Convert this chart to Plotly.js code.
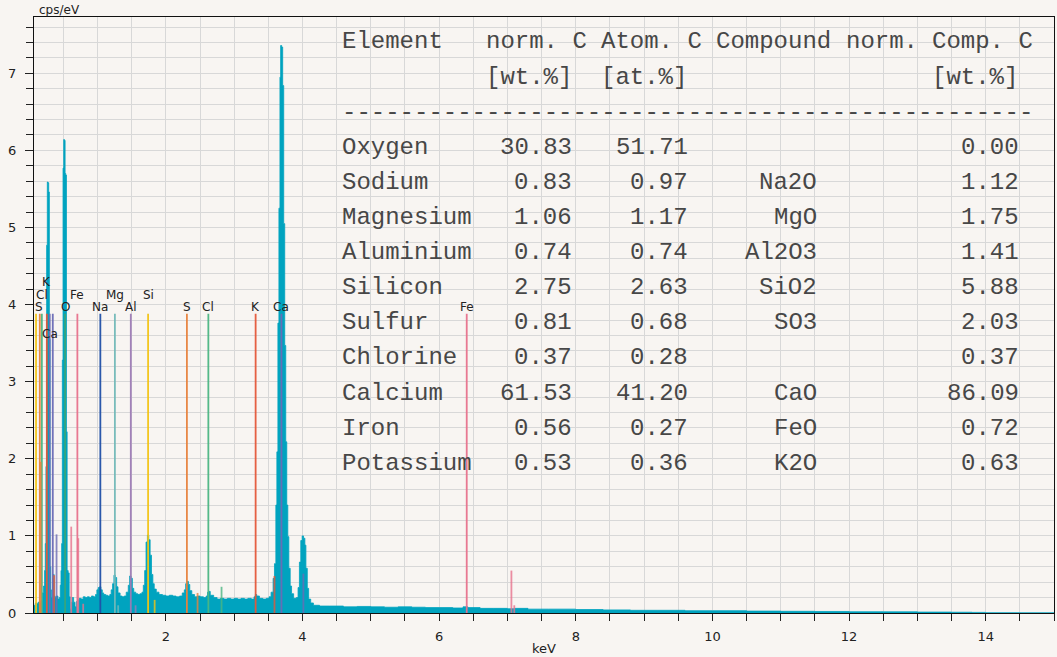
<!DOCTYPE html>
<html>
<head>
<meta charset="utf-8">
<script src="https://cdn.plot.ly/plotly-3.0.1.min.js"></script>
<style>
  html, body { margin: 0; padding: 0; background: #f8f5f2; }
  #chart { width: 1057px; height: 657px; }
</style>
</head>
<body>
<div id="chart"></div>
<script>
// ---------------- DATA ----------------
// EDX spectrum (energy in keV, intensity in cps/eV)
const energyKeV = [
  0.07, 0.09, 0.11, 0.13, 0.15, 0.17, 0.19, 0.21, 0.225, 0.235, 0.245, 0.255, 0.265, 0.275, 0.285, 0.295,
  0.305, 0.315, 0.325, 0.335, 0.345, 0.355, 0.365, 0.38, 0.40, 0.42, 0.44, 0.455, 0.465, 0.475, 0.485,
  0.495, 0.505, 0.515, 0.525, 0.535, 0.545, 0.555, 0.57, 0.585, 0.60, 0.615, 0.63, 0.65, 0.67, 0.69,
  0.71, 0.73, 0.76, 0.79, 0.82, 0.85, 0.88, 0.91, 0.94, 0.97, 0.99, 1.01, 1.03, 1.05, 1.07, 1.09,
  1.12, 1.15, 1.18, 1.20, 1.22, 1.24, 1.26, 1.28, 1.30, 1.33, 1.36, 1.39, 1.42, 1.45, 1.47, 1.49,
  1.51, 1.53, 1.56, 1.59, 1.62, 1.65, 1.67, 1.69, 1.71, 1.73, 1.75, 1.77, 1.79, 1.81, 1.83, 1.86,
  1.90, 1.95, 2.00, 2.05, 2.10, 2.15, 2.20, 2.24, 2.27, 2.29, 2.31, 2.33, 2.35, 2.38, 2.42, 2.46,
  2.50, 2.55, 2.59, 2.61, 2.63, 2.65, 2.70, 2.75, 2.80, 2.85, 2.90, 2.95, 3.00, 3.05, 3.10, 3.15,
  3.20, 3.25, 3.29, 3.31, 3.33, 3.37, 3.42, 3.47, 3.51, 3.54, 3.57, 3.59, 3.61, 3.625, 3.64, 3.655,
  3.67, 3.68, 3.695, 3.71, 3.725, 3.74, 3.755, 3.77, 3.785, 3.80, 3.82, 3.84, 3.87, 3.91, 3.935, 3.955,
  3.975, 3.995, 4.015, 4.035, 4.05, 4.07, 4.09, 4.12, 4.16, 4.25, 4.4, 4.6, 4.8, 5.0, 5.2, 5.4,
  5.6, 5.8, 6.0, 6.2, 6.35, 6.42, 6.6, 6.8, 7.0, 7.1, 7.3, 7.6, 8.0, 8.4, 8.8, 9.2,
  9.6, 10.0, 10.5, 11.0, 11.5, 12.0, 12.5, 13.0, 13.5, 13.8, 14.0, 14.5, 15.0
];
const cpsPerEV = [
  0.10, 0.13, 0.12, 0.14, 0.13, 0.16, 0.26, 0.35, 0.55, 0.90, 1.90, 4.77, 5.59, 5.58, 5.46, 3.55,
  0.60, 0.30, 0.20, 0.18, 0.45, 0.50, 0.22, 0.20, 0.22, 0.18, 0.20, 0.36, 0.55, 0.90, 3.28,
  5.77, 6.14, 6.13, 5.70, 5.68, 2.35, 0.55, 0.52, 0.21, 0.05, 0.14, 0.20, 0.14, 0.08, 0.15,
  0.17, 0.19, 0.18, 0.21, 0.20, 0.21, 0.20, 0.22, 0.21, 0.24, 0.30, 0.33, 0.34, 0.30, 0.26, 0.24,
  0.23, 0.22, 0.24, 0.30, 0.38, 0.49, 0.46, 0.34, 0.26, 0.22, 0.21, 0.22, 0.27, 0.36, 0.48, 0.45,
  0.32, 0.27, 0.25, 0.24, 0.25, 0.27, 0.36, 0.55, 0.92, 1.01, 0.95, 0.75, 0.50, 0.38, 0.31, 0.27,
  0.24, 0.23, 0.22, 0.23, 0.22, 0.21, 0.22, 0.26, 0.30, 0.38, 0.41, 0.37, 0.29, 0.24, 0.21, 0.22,
  0.21, 0.20, 0.22, 0.27, 0.28, 0.23, 0.20, 0.18, 0.19, 0.18, 0.19, 0.18, 0.19, 0.18, 0.19, 0.18,
  0.19, 0.18, 0.21, 0.24, 0.22, 0.19, 0.18, 0.19, 0.21, 0.27, 0.45, 0.64, 1.40, 2.09, 3.76, 5.25,
  6.95, 7.36, 7.34, 6.84, 5.05, 3.47, 2.22, 1.40, 0.99, 0.58, 0.35, 0.25, 0.19, 0.20, 0.33, 0.66,
  0.94, 1.00, 0.97, 0.88, 0.58, 0.32, 0.18, 0.13, 0.10, 0.09, 0.09, 0.08, 0.085, 0.08, 0.075, 0.08,
  0.075, 0.07, 0.07, 0.065, 0.08, 0.07, 0.06, 0.06, 0.055, 0.06, 0.05, 0.05, 0.045, 0.04, 0.035, 0.035,
  0.03, 0.03, 0.025, 0.022, 0.02, 0.016, 0.015, 0.012, 0.01, 0.008, 0.004, 0.003, 0.002
];

// Element line markers (energy keV, marker height cps/eV, element)
const lineEnergy  = [0.100, 0.155, 0.185, 0.258, 0.300, 0.345, 0.525, 0.705, 1.041, 1.254, 1.487, 1.740, 2.308, 2.622, 3.314, 3.692, 6.404,
                     0.168, 0.365, 0.400, 0.615, 0.718, 0.790, 1.302, 1.557, 1.836, 2.464, 2.815, 3.590, 4.013, 7.058, 7.100];
const lineHeight  = [3.88, 3.88, 3.88, 3.88, 3.88, 3.88, 3.88, 3.88, 3.88, 3.88, 3.88, 3.88, 3.88, 3.88, 3.88, 3.88, 3.88,
                     1.96, 0.49, 1.02, 1.12, 0.97, 0.12, 0.10, 0.10, 0.17, 0.26, 0.34, 0.48, 0.51, 0.55, 0.10];
const lineElement = ['Si', 'S', 'Cl', 'K', 'Ca', 'Ca', 'O', 'Fe', 'Na', 'Mg', 'Al', 'Si', 'S', 'Cl', 'K', 'Ca', 'Fe',
                     'S', 'K', 'Ca', 'Fe', 'Fe', 'Fe', 'Mg', 'Al', 'Si', 'S', 'Cl', 'K', 'Ca', 'Fe', 'Fe'];

// Element labels over the markers
const labelText   = ['S', 'Cl', 'K', 'Ca', 'O', 'Fe', 'Na', 'Mg', 'Al', 'Si', 'S', 'Cl', 'K', 'Ca', 'Fe'];
const labelEnergy = [0.150, 0.190, 0.250, 0.305, 0.525, 0.705, 1.041, 1.254, 1.487, 1.740, 2.308, 2.622, 3.314, 3.692, 6.404];

// Quantification table
const tableElements = ['Oxygen', 'Sodium', 'Magnesium', 'Aluminium', 'Silicon', 'Sulfur', 'Chlorine', 'Calcium', 'Iron', 'Potassium'];
const normWt   = ['30.83', '0.83', '1.06', '0.74', '2.75', '0.81', '0.37', '61.53', '0.56', '0.53'];
const atomAt   = ['51.71', '0.97', '1.17', '0.74', '2.63', '0.68', '0.28', '41.20', '0.27', '0.36'];
const compound = ['', 'Na2O', 'MgO', 'Al2O3', 'SiO2', 'SO3', '', 'CaO', 'FeO', 'K2O'];
const compWt   = ['0.00', '1.12', '1.75', '1.41', '5.88', '2.03', '0.37', '86.09', '0.72', '0.63'];
const tableHeader1 = ['Element', 'norm. C', 'Atom. C', 'Compound', 'norm.', 'Comp. C'];
const tableHeader2 = ['[wt.%]', '[at.%]', '[wt.%]'];

// ---------------- STYLE / LAYOUT HELPERS ----------------
const elementColor = {
  Si: '#f3c414', S: '#e8823c', Cl: '#4cb683', K: '#e4583a', Ca: '#6b6cb6',
  O: '#38a67c', Fe: '#e8728d', Na: '#2150a8', Mg: '#72b9b9', Al: '#9d7bb5'
};
const labelLevel = [3.97, 4.13, 4.29, 3.62, 3.97, 4.13, 3.97, 4.13, 3.97, 4.13, 3.97, 3.97, 3.97, 3.97, 3.97];

const W = 1057, H = 657;
const M = {l: 34, r: 3, t: 17, b: 44};
const plotH = H - M.t - M.b, plotW = W - M.l - M.r;
const pxX = px => (px - M.l) / plotW;
const pxY = py => (H - M.b - py) / plotH;

// monospace table grid: column positions in characters
const tblX0 = 342, chW = 14.4, rowY0 = 42, rowDY = 35.1;
const header1Col = [0, 10, 18, 26, 35, 41];   // left char positions
const header2Col = [10, 18, 41];
const valueEnd = [16, 24, 33, 47];            // right char positions for value columns

// ---------------- TRACES ----------------
const spectrum = {
  type: 'scatter', mode: 'lines',
  x: energyKeV, y: cpsPerEV,
  line: {shape: 'hv', color: '#00a3bf', width: 0.8},
  fill: 'tozeroy', fillcolor: '#00a3bf',
  hoverinfo: 'x+y', showlegend: false
};

const shapes = lineEnergy.map((e, i) => ({
  type: 'line', xref: 'x', yref: 'y', layer: 'above',
  x0: e, x1: e, y0: 0, y1: lineHeight[i],
  line: {color: elementColor[lineElement[i]], width: 1.8},
  opacity: i < 17 ? 0.95 : 0.8
}));

const annotations = [];
labelText.forEach((t, i) => {
  annotations.push({
    xref: 'x', yref: 'y', x: labelEnergy[i], y: labelLevel[i],
    text: t, showarrow: false, xanchor: 'center', yanchor: 'middle',
    font: {family: 'DejaVu Sans', size: 12, color: '#222'}, borderpad: 0
  });
});

const tblFont = {family: 'Liberation Mono', size: 24, color: '#474747'};
function cell(text, col, row, anchor) {
  annotations.push({
    xref: 'paper', yref: 'paper', x: pxX(tblX0 + col * chW), y: pxY(rowY0 + rowDY * row),
    text: text, showarrow: false, xanchor: anchor, yanchor: 'middle',
    font: tblFont, borderpad: 0, borderwidth: 0
  });
}
tableHeader1.forEach((t, i) => cell(t, header1Col[i], 0, 'left'));
tableHeader2.forEach((t, i) => cell(t, header2Col[i], 1, 'left'));
cell('-'.repeat(48), 0, 2, 'left');
tableElements.forEach((el, i) => {
  const r = i + 3;
  cell(el, 0, r, 'left');
  cell(normWt[i], valueEnd[0], r, 'right');
  cell(atomAt[i], valueEnd[1], r, 'right');
  if (compound[i]) cell(compound[i], valueEnd[2], r, 'right');
  cell(compWt[i], valueEnd[3], r, 'right');
});

// axis captions
annotations.push({
  xref: 'paper', yref: 'paper', x: pxX(38), y: pxY(10.5), text: 'cps/eV',
  showarrow: false, xanchor: 'left', yanchor: 'middle',
  font: {family: 'DejaVu Sans', size: 12, color: '#222'}, borderpad: 0
});
annotations.push({
  xref: 'paper', yref: 'paper', x: pxX(544), y: pxY(648.5), text: 'keV',
  showarrow: false, xanchor: 'center', yanchor: 'middle',
  font: {family: 'DejaVu Sans', size: 13, color: '#222'}, borderpad: 0
});

const gridColor = '#d8d8d8';
const layout = {
  width: W, height: H,
  margin: M,
  paper_bgcolor: '#f8f5f2', plot_bgcolor: '#f8f5f2',
  showlegend: false,
  font: {family: 'DejaVu Sans', size: 13, color: '#222'},
  xaxis: {
    range: [0.07, 15.0], tick0: 0, dtick: 2,
    showline: true, linecolor: '#111', linewidth: 1, mirror: true,
    ticks: 'outside', ticklen: 7, tickcolor: '#222', tickwidth: 1,
    showgrid: true, gridcolor: gridColor, gridwidth: 1,
    zeroline: false, ticklabelstandoff: 4,
    tickfont: {family: 'DejaVu Sans', size: 13, color: '#222'},
    minor: {tick0: 0, dtick: 0.5, ticks: 'outside', ticklen: 7, tickcolor: '#222',
            showgrid: true, gridcolor: gridColor, gridwidth: 1}
  },
  yaxis: {
    range: [0, 7.73], tick0: 0, dtick: 1,
    showline: true, linecolor: '#111', linewidth: 1, mirror: true,
    ticks: 'outside', ticklen: 8, tickcolor: '#222', tickwidth: 1,
    showgrid: true, gridcolor: gridColor, gridwidth: 1,
    zeroline: false, ticklabelstandoff: 6,
    tickfont: {family: 'DejaVu Sans', size: 13, color: '#222'},
    minor: {tick0: 0, dtick: 0.2, ticks: 'outside', ticklen: 7, tickcolor: '#222',
            showgrid: true, gridcolor: gridColor, gridwidth: 1}
  },
  shapes: shapes,
  annotations: annotations
};

Plotly.newPlot('chart', [spectrum], layout, {staticPlot: true, displayModeBar: false});
</script>
</body>
</html>
